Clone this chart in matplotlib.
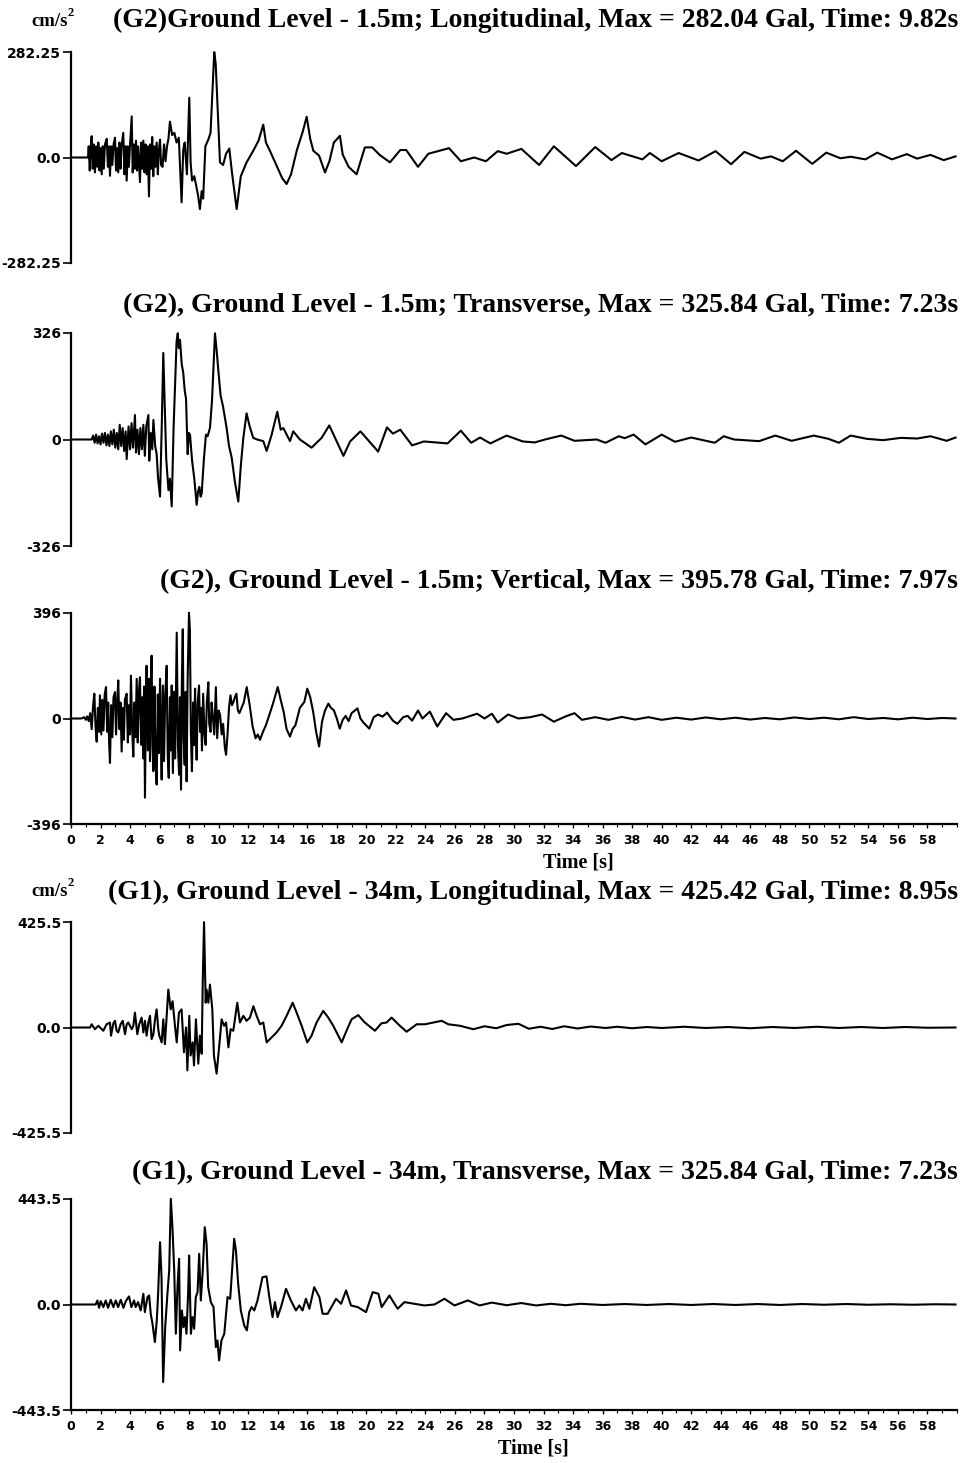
import matplotlib
matplotlib.use("Agg")
import matplotlib.pyplot as plt
from matplotlib.ticker import MultipleLocator

# --- datos: (tiempo [s], aceleracion [cm/s2]) ---
g2_long_pts = [
    (0, 0), (1.15, 0), (1.2, 30), (1.27, -35), (1.33, 25), (1.4, 57), (1.47, -30), (1.55, 35),
    (1.62, -40), (1.7, 30), (1.78, -25), (1.85, 40), (1.93, -35), (2.0, 25), (2.08, -45),
    (2.15, 30), (2.22, -30), (2.3, 35), (2.42, 50), (2.5, -25), (2.57, 30), (2.64, -49),
    (2.72, 30), (2.8, -20), (2.88, 35), (2.98, 53), (3.05, -35), (3.12, 25), (3.2, -40),
    (3.28, 40), (3.35, -30), (3.42, 30), (3.54, 66), (3.62, -45), (3.7, 30), (3.77, -62),
    (3.85, 30), (3.92, -25), (4.0, 35), (4.11, 110), (4.18, -40), (4.25, 35), (4.32, -30),
    (4.4, 45), (4.47, -35), (4.55, 30), (4.67, -66), (4.75, 40), (4.82, -30), (4.9, 45),
    (4.98, -40), (5.05, 35), (5.12, -45), (5.2, 30), (5.28, -104), (5.35, 35), (5.42, -30),
    (5.5, 55), (5.57, -50), (5.64, 30), (5.72, -25), (5.8, 40), (5.88, -45), (5.95, 20),
    (6.03, 48), (6.1, -20), (6.2, -25), (6.3, 35), (6.4, -10), (6.5, 30), (6.6, 50),
    (6.7, 96), (6.85, 60), (7.0, 66), (7.15, 40), (7.3, 53), (7.49, -120), (7.6, 20),
    (7.7, 40), (7.85, -45), (8.01, 160), (8.1, -13), (8.2, -62), (8.35, -50), (8.5, -80),
    (8.6, -100), (8.73, -138), (8.85, -90), (8.95, -110), (9.1, 30), (9.3, 48), (9.45, 66),
    (9.7, 282), (9.8, 250), (10.09, -13), (10.3, -20), (10.5, 10), (10.72, 24), (10.9, -40),
    (11.22, -138), (11.5, -50), (11.89, -13), (12.3, 15), (12.7, 45), (13.02, 88), (13.2, 40),
    (13.47, 18), (13.9, -20), (14.3, -55), (14.6, -71), (14.9, -45), (15.3, 20), (15.7, 70),
    (15.96, 109), (16.2, 50), (16.41, 18), (16.8, 5), (17.2, -40), (17.5, -10), (17.8, 40),
    (18.21, 58), (18.4, 8), (18.8, -25), (19.34, -45), (19.9, 27), (20.4, 27), (20.9, 7),
    (21.6, -13), (22.3, 20), (22.7, 20), (23.5, -25), (24.2, 10), (25.6, 25), (26.4, -10),
    (27.3, 0), (28.1, -10), (28.9, 17), (29.5, 10), (30.5, 23), (31.7, -20), (32.7, 30),
    (34.2, -23), (35.5, 28), (36.6, -7), (37.3, 12), (38.7, -5), (39.2, 12), (40.0, -10),
    (41.15, 12), (42.5, -8), (43.65, 17), (44.7, -18), (45.6, 15), (46.7, -3), (47.4, 3),
    (48.2, -10), (49.1, 18), (50.2, -17), (51.15, 13), (52.1, -2), (52.8, 2), (53.8, -5),
    (54.6, 13), (55.6, -5), (56.6, 9), (57.3, -3), (58.2, 7), (59.1, -7), (59.9, 3),
]

g2_trans_pts = [
    (0, 0), (1.4, 0), (1.5, 12), (1.6, -10), (1.7, 15), (1.8, -12), (1.9, 10), (2.0, -15),
    (2.1, 18), (2.2, -10), (2.3, 20), (2.4, -18), (2.5, 15), (2.6, -20), (2.7, 25),
    (2.8, -15), (2.9, 30), (3.0, -25), (3.1, 20), (3.2, -30), (3.3, 45), (3.4, -20),
    (3.5, 35), (3.6, -35), (3.7, 25), (3.77, -60), (3.9, 40), (4.0, -30), (4.1, 50),
    (4.2, -25), (4.33, 75), (4.4, -40), (4.5, 30), (4.6, -45), (4.7, 35), (4.8, -30),
    (4.9, 45), (5.0, -50), (5.1, 40), (5.24, 75), (5.3, -65), (5.4, 20), (5.5, -30),
    (5.58, 60), (5.7, -20), (5.8, -45), (5.9, -120), (6.03, -175), (6.15, 50), (6.25, 265),
    (6.35, 100), (6.45, -60), (6.6, -155), (6.7, -120), (6.82, -205), (6.95, 40), (7.04, 155),
    (7.15, 300), (7.23, 325), (7.3, 280), (7.38, 305), (7.5, 230), (7.6, 205), (7.7, 150),
    (7.79, 125), (7.9, -45), (7.98, 20), (8.06, 15), (8.2, -65), (8.35, -120), (8.51, -200),
    (8.6, -160), (8.69, -145), (8.78, -175), (8.85, -165), (9.0, -60), (9.14, 15), (9.25, 10),
    (9.41, 35), (9.55, 120), (9.75, 325), (9.85, 280), (9.97, 215), (10.13, 135), (10.3, 100),
    (10.54, 35), (10.7, -20), (10.88, -55), (11.1, -130), (11.33, -190), (11.5, -80),
    (11.67, 5), (11.89, 80), (12.1, 40), (12.34, 5), (12.6, 0), (13.02, -5), (13.25, -35),
    (13.59, 15), (13.97, 85), (14.2, 30), (14.38, 35), (14.83, -5), (15.05, 25), (15.5, 0),
    (16.29, -25), (16.97, 5), (17.49, 43), (18.45, -50), (18.9, -6), (19.6, 25), (20.8, -37),
    (21.4, 37), (21.8, 18), (22.3, 30), (23.1, -18), (23.9, -6), (25.5, -12), (26.4, 27),
    (27.1, -10), (27.7, 6), (28.4, -12), (29.5, 12), (30.6, -6), (31.4, -9), (32.1, 0),
    (33.2, 12), (34.1, -4), (35.6, 0), (36.2, -10), (37.1, 10), (37.5, 4), (38.1, 15),
    (38.9, -15), (40.0, 15), (40.9, -7), (42.0, 6), (43.6, -10), (44.2, 10), (44.9, 0),
    (46.6, -5), (47.7, 12), (48.8, -4), (50.3, 12), (51.3, 2), (52.0, -10), (52.8, 12),
    (53.9, 2), (55.0, -2), (56.2, 5), (57.3, 3), (58.2, 10), (59.3, -4), (59.9, 6),
]

g2_vert_pts = [
    (0, 0), (0.7, 0), (0.9, 5), (1.0, -5), (1.1, 8), (1.2, -10), (1.3, 20), (1.4, -40),
    (1.5, 50), (1.58, 93), (1.66, -30), (1.74, -87), (1.82, 40), (1.9, -50), (1.96, 87),
    (2.05, -60), (2.12, 70), (2.2, -45), (2.28, 90), (2.37, 118), (2.45, -50), (2.52, 60),
    (2.58, -90), (2.64, -167), (2.72, 50), (2.8, -70), (2.88, 80), (2.98, 99), (3.05, -60),
    (3.12, 50), (3.2, 143), (3.28, -40), (3.35, 60), (3.43, -124), (3.5, 40), (3.58, -80),
    (3.65, 70), (3.77, 93), (3.85, -90), (3.92, 50), (3.99, -60), (4.06, 161), (4.14, -40),
    (4.22, -143), (4.3, 60), (4.37, -70), (4.45, 149), (4.52, -90), (4.6, 100), (4.67, 155),
    (4.75, -99), (4.82, 80), (4.9, -150), (4.95, 120), (5.01, -297), (5.07, 60), (5.12, 198),
    (5.2, -120), (5.28, 149), (5.35, -160), (5.4, 130), (5.46, 236), (5.52, -100),
    (5.58, -198), (5.65, 120), (5.72, -150), (5.8, -248), (5.88, 90), (5.95, -130),
    (6.03, 149), (6.09, -80), (6.14, -229), (6.22, 124), (6.3, -160), (6.38, 90), (6.48, 198),
    (6.55, -140), (6.62, -223), (6.7, 80), (6.76, -120), (6.82, 124), (6.9, -205), (6.98, 100),
    (7.05, -150), (7.16, 322), (7.24, -100), (7.32, -211), (7.38, 80), (7.45, -267),
    (7.51, 150), (7.57, 335), (7.63, -80), (7.7, -174), (7.76, 100), (7.83, -236), (7.9, 150),
    (7.99, 397), (8.05, 335), (8.12, -60), (8.19, -198), (8.27, 60), (8.34, -100), (8.4, 112),
    (8.46, -60), (8.51, -155), (8.58, 60), (8.67, 124), (8.74, -50), (8.8, 40), (8.87, -120),
    (8.95, 93), (9.04, -60), (9.12, -99), (9.2, 60), (9.3, 136), (9.36, -20), (9.45, -50),
    (9.52, 60), (9.6, 12), (9.7, -60), (9.81, 118), (9.9, -74), (10.0, 30), (10.1, 12),
    (10.2, -60), (10.3, -20), (10.42, -110), (10.5, -136), (10.6, -60), (10.7, 40),
    (10.8, 87), (10.9, 50), (11.0, 62), (11.1, 80), (11.2, 93), (11.3, 30), (11.4, 20),
    (11.55, 40), (11.7, 60), (11.9, 118), (12.1, 50), (12.3, -30), (12.5, -74), (12.65, -60),
    (12.8, -80), (13.0, -50), (13.2, -25), (13.5, 25), (13.7, 60), (14.0, 118), (14.2, 70),
    (14.4, 25), (14.6, -40), (14.83, -68), (15.0, -40), (15.2, -25), (15.5, 40), (15.8, 62),
    (16.0, 112), (16.2, 80), (16.4, 25), (16.6, -50), (16.8, -105), (17.0, -12), (17.2, 30),
    (17.43, 56), (17.6, 40), (17.8, 31), (18.0, 0), (18.2, -38), (18.4, -5), (18.6, 10),
    (18.8, -10), (19.0, 20), (19.4, 38), (19.6, 0), (19.8, -15), (20.2, -38), (20.5, 5),
    (20.8, 15), (21.1, 7), (21.4, 22), (21.8, -8), (22.1, -20), (22.5, 5), (22.8, 10),
    (23.1, -8), (23.5, 30), (23.8, 0), (24.3, 26), (24.8, -30), (25.4, 20), (25.9, -5),
    (26.5, 0), (27.5, 18), (28.0, 0), (28.5, 18), (28.9, -15), (29.6, 15), (30.3, 0),
    (31.1, 5), (31.9, 15), (32.7, -12), (33.5, 8), (34.1, 20), (34.6, -5), (35.5, 5),
    (36.4, -5), (37.3, 6), (38.2, -4), (39.1, 5), (40.0, -5), (41.0, 3), (42.0, -4),
    (43.0, 4), (44.0, -3), (45.0, 3), (46.0, -4), (47.0, 2), (48.0, -3), (49.0, 4),
    (50.0, -2), (51.0, 3), (52.0, -3), (53.0, 5), (54.0, -2), (55.0, 2), (56.0, -3),
    (57.0, 3), (58.0, -2), (59.0, 2), (59.9, 0),
]

g1_long_pts = [
    (0, 0), (1.29, 0), (1.4, 13), (1.62, -7), (1.85, 7), (2.19, -13), (2.41, 13), (2.64, 20),
    (2.71, -33), (2.87, 17), (2.98, 27), (3.09, -13), (3.2, -20), (3.36, 13), (3.5, 27),
    (3.66, -27), (3.77, 13), (3.88, 20), (4.11, -7), (4.22, 7), (4.33, 60), (4.49, -27),
    (4.62, 13), (4.78, 40), (4.9, -20), (5.01, 27), (5.12, -33), (5.24, 20), (5.35, 47),
    (5.46, -47), (5.58, -27), (5.69, 33), (5.8, 73), (5.91, -7), (5.98, -33), (6.14, -60),
    (6.25, 33), (6.36, -67), (6.48, 47), (6.59, 153), (6.75, 73), (6.88, 106), (7.04, 7),
    (7.16, -60), (7.31, 60), (7.49, 73), (7.65, -100), (7.79, 0), (7.88, -173), (8.01, 47),
    (8.1, -113), (8.24, -60), (8.33, -153), (8.46, 33), (8.62, -146), (8.73, -33),
    (8.85, -106), (8.92, 180), (9.01, 425), (9.12, 100), (9.18, 153), (9.3, 100), (9.41, 173),
    (9.57, 73), (9.68, -113), (9.86, -186), (10.04, -73), (10.2, 33), (10.36, 7), (10.5, 20),
    (10.66, -80), (10.81, -7), (10.99, -13), (11.26, 100), (11.44, 20), (11.67, 47),
    (11.89, 27), (12.12, 40), (12.35, 86), (12.57, 47), (12.8, 13), (13.02, 20), (13.25, -60),
    (13.59, -40), (13.92, -20), (14.26, 7), (14.6, 47), (15.01, 100), (15.28, 60), (15.62, 7),
    (16.0, -60), (16.29, -33), (16.63, 20), (17.08, 67), (17.42, 40), (17.76, 7), (18.33, -60),
    (18.66, -13), (19.0, 33), (19.45, 50), (19.9, 20), (20.58, -13), (21.03, 17), (21.37, 20),
    (21.71, 40), (22.27, 7), (22.73, -17), (23.41, 13), (23.97, 13), (24.53, 20), (25.1, 27),
    (25.55, 13), (26.34, 7), (27.24, -7), (28.0, 5), (28.8, -3), (29.5, 10), (30.3, 15),
    (31.0, -5), (31.8, 3), (32.6, -6), (33.4, 5), (34.3, -4), (35.2, 4), (36.2, -2),
    (37.0, 3), (38.0, -3), (39.0, 2), (40.0, -2), (41.5, 3), (43.0, -2), (44.5, 2),
    (46.0, -3), (47.5, 2), (49.0, -2), (50.5, 3), (52.0, -2), (53.5, 2), (55.0, -2),
    (56.5, 2), (58.0, -1), (59.9, 0),
]

g1_trans_pts = [
    (0, 0), (1.67, 0), (1.79, 17), (1.9, -14), (2.01, 14), (2.19, -11), (2.35, 17), (2.51, -14),
    (2.69, 20), (2.87, -11), (3.03, 17), (3.19, -11), (3.37, 20), (3.55, -14), (3.71, 14),
    (3.93, 34), (4.09, -11), (4.27, 17), (4.38, -11), (4.54, 10), (4.72, -25), (4.9, 45),
    (5.0, -32), (5.18, 31), (5.29, 38), (5.4, -39), (5.52, -81), (5.68, -158), (5.81, -67),
    (5.9, 45), (6.03, 262), (6.13, 115), (6.24, -326), (6.38, -95), (6.53, 45), (6.65, 143),
    (6.76, 444), (6.87, 325), (6.99, 143), (7.1, -123), (7.21, 73), (7.32, 192), (7.39, -193),
    (7.51, -25), (7.62, -95), (7.71, -53), (7.82, -123), (7.93, 45), (8.0, 206), (8.12, -123),
    (8.23, -53), (8.34, -102), (8.45, 31), (8.57, 52), (8.68, 213), (8.79, 17), (8.91, 129),
    (9.06, 325), (9.18, 255), (9.29, 73), (9.47, 10), (9.65, -11), (9.81, -179), (9.92, -151),
    (10.03, -235), (10.19, -151), (10.38, -123), (10.6, 31), (10.78, 24), (11.05, 276),
    (11.17, 227), (11.32, 87), (11.5, -25), (11.73, -88), (11.91, -109), (12.07, -32),
    (12.23, -11), (12.41, -25), (12.63, 17), (12.97, 115), (13.24, 118), (13.43, 31),
    (13.65, -53), (13.81, 10), (13.99, -53), (14.22, -11), (14.56, 66), (14.89, 17),
    (15.23, -25), (15.46, -4), (15.68, -25), (15.91, 24), (16.14, -18), (16.47, 73),
    (16.82, 31), (17.04, -39), (17.38, -39), (17.95, 24), (18.29, 3), (18.63, 59), (18.96, -4),
    (19.42, -11), (19.98, -32), (20.43, 52), (20.82, 45), (21.04, -11), (21.56, 38),
    (22.12, -18), (22.58, 10), (23.25, 3), (23.93, -4), (24.61, 0), (25.29, 24), (25.97, -4),
    (26.87, 17), (27.67, -4), (28.5, 8), (29.5, -3), (30.5, 6), (31.5, -4), (32.5, 3),
    (33.5, -3), (34.5, 3), (36.0, -2), (37.5, 2), (39.0, -2), (40.5, 2), (42.0, -2),
    (43.5, 2), (45.0, -2), (46.5, 2), (48.0, -2), (49.5, 2), (51.0, -1), (52.5, 2),
    (54.0, -1), (55.5, 1), (57.0, -1), (58.5, 1), (59.9, 0),
]

titulos = [
    "(G2)Ground Level - 1.5m; Longitudinal, Max = 282.04 Gal, Time: 9.82s",
    "(G2), Ground Level - 1.5m; Transverse, Max = 325.84 Gal, Time: 7.23s",
    "(G2), Ground Level - 1.5m; Vertical, Max = 395.78 Gal, Time: 7.97s",
    "(G1), Ground Level - 34m, Longitudinal, Max = 425.42 Gal, Time: 8.95s",
    "(G1), Ground Level - 34m, Transverse, Max = 325.84 Gal, Time: 7.23s",
]
limites_y = [282.25, 326, 396, 425.5, 443.5]
etiquetas_y = [
    ["-282.25", "0.0", "282.25"],
    ["-326", "0", "326"],
    ["-396", "0", "396"],
    ["-425.5", "0.0", "425.5"],
    ["-443.5", "0.0", "443.5"],
]
series = [g2_long_pts, g2_trans_pts, g2_vert_pts, g1_long_pts, g1_trans_pts]
con_eje_x = [False, False, True, False, True]

# --- geometria en pixeles (figura 966x1463) ---
W, H = 966, 1463
X0, X1 = 71, 957
cajas = [(52, 263), (333, 546), (613, 824), (922, 1133), (1199, 1410)]
y_titulos = [20, 306, 582, 892, 1173]
y_tiempo = {2: (578, 862), 4: (533, 1449)}   # posicion del rotulo "Time [s]"
y_unidades = [20, 890]                       # rotulo cm/s2 en los paneles 1 y 4

fig = plt.figure(figsize=(W / 100, H / 100), dpi=100)
fuente_serif = "Liberation Serif"

for i in range(5):
    top, bot = cajas[i]
    ax = fig.add_axes([X0 / W, 1 - bot / H, (X1 - X0) / W, (bot - top) / H])
    t = [p[0] for p in series[i]]
    a = [p[1] for p in series[i]]
    ax.plot(t, a, color="black", linewidth=1.5, clip_on=False, solid_joinstyle="round")

    lim = limites_y[i]
    ax.set_xlim(0, 60)
    ax.set_ylim(-lim, lim)
    ax.set_yticks([-lim, 0, lim])
    ax.set_yticklabels(etiquetas_y[i], fontsize=10, fontweight="bold")
    ax.tick_params(axis="y", direction="out", length=6, width=1.2, pad=1)

    for lado in ["top", "right"]:
        ax.spines[lado].set_visible(False)
    ax.spines["left"].set_linewidth(1.6)

    if con_eje_x[i]:
        ax.spines["bottom"].set_linewidth(1.6)
        ax.xaxis.set_minor_locator(MultipleLocator(1))
        ax.set_xticks(range(0, 60, 2))
        ax.set_xticklabels([str(v) for v in range(0, 60, 2)], fontsize=9, fontweight="bold")
        ax.tick_params(axis="x", which="major", direction="out", length=3, width=1, pad=4)
        ax.tick_params(axis="x", which="minor", direction="out", length=2, width=0.8)
        xt, yt = y_tiempo[i]
        fig.text(xt / W, 1 - yt / H, "Time [s]", ha="center", va="center",
                 fontsize=14.5, fontweight="bold", family=fuente_serif)
    else:
        ax.spines["bottom"].set_visible(False)
        ax.set_xticks([])

    fig.text(958 / W, 1 - y_titulos[i] / H, titulos[i], ha="right", va="center",
             fontsize=20, fontweight="bold", family=fuente_serif)

# unidades
for yu in y_unidades:
    fig.text(31 / W, 1 - (yu + 2) / H, "cm/s", ha="left", va="center", fontsize=13.5,
             fontweight="bold", family=fuente_serif)
    fig.text(67 / W, 1 - (yu - 7) / H, "2", ha="left", va="center", fontsize=9,
             fontweight="bold", family=fuente_serif)

fig.savefig("out.png", dpi=100)
